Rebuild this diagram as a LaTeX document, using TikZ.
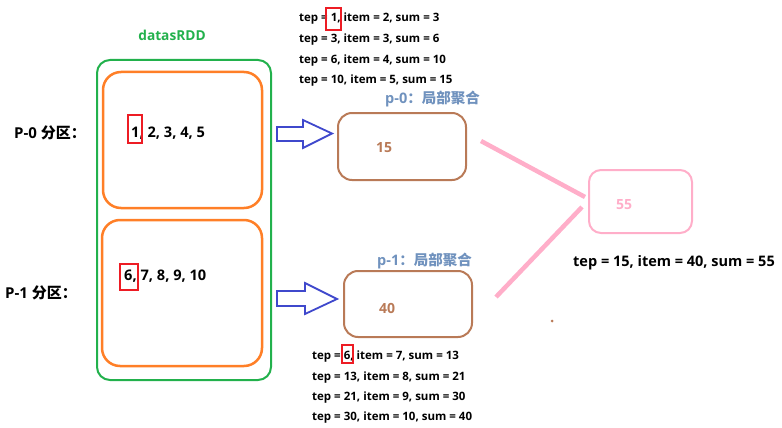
\documentclass[tikz,border=0pt]{standalone}
\usepackage{fontspec}
\setmainfont{Open Sans}
\newfontfamily\cjk{Noto Sans CJK SC}
\usetikzlibrary{calc}
\definecolor{rddgreen}{HTML}{22B14C}
\definecolor{partorange}{HTML}{FF7F27}
\definecolor{aggbrown}{HTML}{B97A57}
\definecolor{sumpink}{HTML}{FFAEC9}
\definecolor{arrowblue}{HTML}{3F48CC}
\definecolor{labelblue}{HTML}{7092BE}
\definecolor{markred}{HTML}{ED1C24}
\tikzset{
  box/.style={draw, rounded corners=#1, inner sep=0pt},
  redmark/.style={draw=markred, line width=2pt, inner sep=0pt},
  bigtxt/.style={font=\bfseries\fontsize{14.6}{16}\selectfont, inner sep=0pt, anchor=west},
  smalltxt/.style={font=\bfseries\fontsize{11.5}{13}\selectfont, inner sep=0pt, anchor=west},
  lbl/.style={font=\bfseries\fontsize{14.5}{16}\selectfont, inner sep=0pt, anchor=west},
  valtxt/.style={font=\bfseries\fontsize{14}{16}\selectfont, inner sep=0pt},
  blockarrow/.style={draw=arrowblue, line width=1.8pt, line join=miter},
  pinkline/.style={draw=sumpink, line width=4.5pt},
}
\begin{document}
\begin{tikzpicture}[x=1pt,y=-1pt]
\useasboundingbox (0,0) rectangle (782,428);
% containers
\node[box=13pt, draw=rddgreen, line width=2pt, minimum width=174pt, minimum height=320pt] (rdd) at (184,220) {};
\node[box=18pt, draw=partorange, line width=2.5pt, minimum width=159pt, minimum height=136pt] (part0) at (182.5,140) {};
\node[box=18pt, draw=partorange, line width=2.5pt, minimum width=160pt, minimum height=146pt] (part1) at (182,293) {};
\node[font=\bfseries\fontsize{13.7}{15}\selectfont, text=rddgreen, inner sep=0pt] (rddlbl) at (172,35) {datasRDD};
\node[lbl, font=\bfseries\fontsize{15}{17}\selectfont] (p0lbl) at (14,133) {P-0 {\cjk\bfseries 分区：}};
\node[lbl, font=\bfseries\fontsize{15}{17}\selectfont] (p1lbl) at (5,293) {P-1 {\cjk\bfseries 分区：}};
% partition data
\node[bigtxt] (d0) at (131,133) {1, 2, 3, 4, 5};
\node[bigtxt] (d1) at (124,276) {6, 7, 8, 9, 10};
\node[redmark, minimum width=14pt, minimum height=28pt] (r1) at (135,129) {};
\node[redmark, minimum width=18pt, minimum height=26pt] (r2) at (129,277) {};
% aggregation boxes
\node[box=14pt, draw=aggbrown, line width=2pt, minimum width=128pt, minimum height=67pt] (agg0) at (402,146.5) {};
\node[box=14pt, draw=aggbrown, line width=2pt, minimum width=128pt, minimum height=66pt] (agg1) at (408,304) {};
\node[valtxt, text=aggbrown] (v15) at (384,148) {15};
\node[valtxt, text=aggbrown] (v40) at (387,308) {40};
\node[lbl, text=labelblue] (a0lbl) at (385,99) {p-0{\cjk\bfseries ：局部聚合}};
\node[lbl, text=labelblue] (a1lbl) at (377,261) {p-1{\cjk\bfseries ：局部聚合}};
% final box
\node[box=12pt, draw=sumpink, line width=2pt, minimum width=103pt, minimum height=63pt] (fin) at (640.5,201.5) {};
\node[valtxt, text=sumpink] (v55) at (624,205) {55};
\node[smalltxt, font=\bfseries\fontsize{14.5}{16}\selectfont] (finlbl) at (573,263) {tep = 15, item = 40, sum = 55};
% top trace
\node[smalltxt] (t1) at (299,19) {tep = 1, item = 2, sum = 3};
\node[smalltxt] (t2) at (299,40) {tep = 3, item = 3, sum = 6};
\node[smalltxt] (t3) at (299,61) {tep = 6, item = 4, sum = 10};
\node[smalltxt] (t4) at (299,81) {tep = 10, item = 5, sum = 15};
\node[redmark, minimum width=15pt, minimum height=22pt] (r3) at (333.5,19) {};
% bottom trace
\node[smalltxt] (b1) at (312,357) {tep = 6, item = 7, sum = 13};
\node[smalltxt] (b2) at (312,378) {tep = 13, item = 8, sum = 21};
\node[smalltxt] (b3) at (312,398) {tep = 21, item = 9, sum = 30};
\node[smalltxt] (b4) at (312,418) {tep = 30, item = 10, sum = 40};
\node[redmark, minimum width=11pt, minimum height=18pt] (r4) at (347.5,354) {};
% block arrows
\draw[blockarrow] (277,127) -- (303,127) -- (303,120) -- (332,133.5) -- (303,148) -- (303,141) -- (277,141) -- cycle;
\draw[blockarrow] (277,291) -- (305,291) -- (305,283) -- (337,299) -- (305,314) -- (305,306) -- (277,306) -- cycle;
% pink connectors
\coordinate (c0s) at (481,141);
\coordinate (c0e) at (585,197);
\coordinate (c1s) at (496,297);
\coordinate (c1e) at (582,207);
\draw[pinkline] (c0s) -- (c0e);
\draw[pinkline] (c1s) -- (c1e);
% stray dot
\fill[aggbrown] (552,321) circle (1.5pt);
\end{tikzpicture}
\end{document}
